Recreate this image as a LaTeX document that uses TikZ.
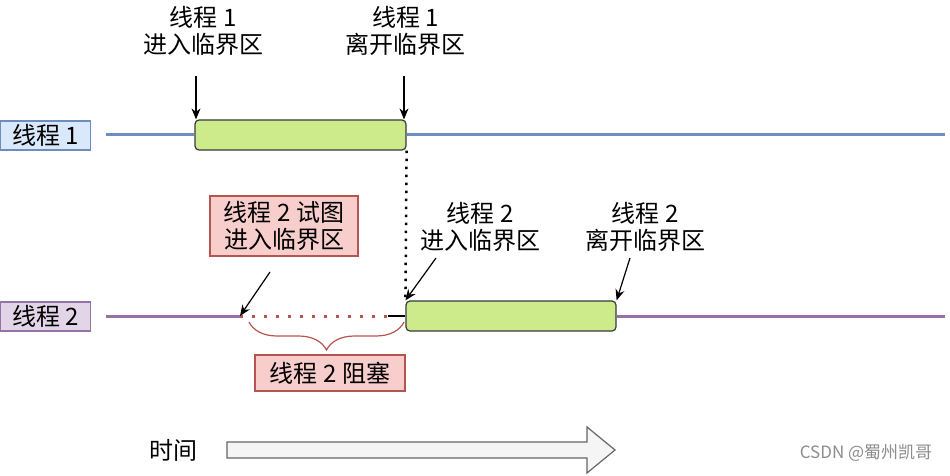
\documentclass[tikz,border=0pt]{standalone}
\usepackage{fontspec}
\setmainfont{Noto Sans CJK SC}
\usetikzlibrary{arrows.meta,decorations.pathreplacing}

\definecolor{laneblue}{HTML}{6C8EBF}
\definecolor{laneblfill}{HTML}{DAE8FC}
\definecolor{lanepurple}{HTML}{9673A6}
\definecolor{lanepufill}{HTML}{E1D5E7}
\definecolor{barfill}{HTML}{CDEB8B}
\definecolor{barline}{HTML}{36393D}
\definecolor{warnfill}{HTML}{F8CECC}
\definecolor{warnline}{HTML}{B85450}

\tikzset{
  lanebox/.style={draw, line width=1.2pt, minimum width=90pt, minimum height=29pt, inner sep=0pt},
  bar/.style={draw=barline, fill=barfill, line width=1.2pt, rounded corners=4pt, minimum height=30pt, inner sep=0pt},
  warnbox/.style={draw=warnline, fill=warnfill, line width=1.2pt, inner sep=0pt, align=center},
  note/.style={align=center, inner sep=0pt},
  pointer/.style={-{Stealth[length=11pt,width=9pt]}, line width=1.2pt},
}

\begin{document}
\begin{tikzpicture}[x=1pt,y=-1pt,font=\fontsize{24}{27}\selectfont]
  \useasboundingbox (0,0) rectangle (950,476);

  % lanes
  \node[lanebox, draw=laneblue, fill=laneblfill] (lane1) at (45.5,135.5) {线程 1};
  \node[lanebox, draw=lanepurple, fill=lanepufill] (lane2) at (45.5,316.5) {线程 2};

  \node[bar, minimum width=211pt] (bar1) at (300.5,135) {};
  \node[bar, minimum width=210pt] (bar2) at (511,316) {};

  \coordinate (l1s) at (106,135);
  \coordinate (l1e) at (945,135);
  \coordinate (l2s) at (106,316);
  \coordinate (l2e) at (945,316);
  \coordinate (wait) at (240,316);
  \coordinate (waitend) at (388,316);

  \draw[laneblue, line width=3pt] (l1s) -- (bar1.west);
  \draw[laneblue, line width=3pt] (bar1.east) -- (l1e);
  \draw[lanepurple, line width=3pt] (l2s) -- (wait);
  \draw[warnline, line width=3pt, dash pattern=on 3pt off 9pt] (wait) -- (waitend);
  \draw[line width=1.2pt] (waitend) -- (bar2.west);
  \draw[lanepurple, line width=3pt] (bar2.east) -- (l2e);

  \draw[line width=2.5pt, dash pattern=on 2.5pt off 5.5pt] (bar1.south east) -- (bar2.north west);

  % labels thread 1
  \node[note] (in1) at (203,31) {线程 1\\进入临界区};
  \node[note] (out1) at (405.5,31) {线程 1\\离开临界区};
  \coordinate (in1a) at (196,76);
  \coordinate (out1a) at (404,76);
  \draw[pointer] (in1a) -- (in1a |- bar1.north);
  \draw[pointer] (out1a) -- (out1a |- bar1.north);

  % labels thread 2
  \node[warnbox, minimum width=148pt, minimum height=60pt] (try2) at (284,226) {线程 2 试图\\进入临界区};
  \node[note] (in2) at (480,227) {线程 2\\进入临界区};
  \node[note] (out2) at (645,227) {线程 2\\离开临界区};
  \coordinate (try2a) at (270,272);
  \coordinate (in2a) at (436,258);
  \coordinate (out2a) at (630,258);
  \draw[pointer] (try2a) -- (wait);
  \draw[pointer] (in2a) -- (bar2.north west);
  \draw[pointer] (out2a) -- (bar2.north east);

  % blocked
  \coordinate (bl) at (249,322);
  \coordinate (br) at (404,322);
  \draw[warnline, line width=1.2pt, decorate, decoration={brace, mirror, amplitude=28pt, aspect=0.5}] (bl) -- (br);
  \node[warnbox, minimum width=150pt, minimum height=36pt] (block2) at (330,373) {线程 2 阻塞};

  % time
  \node[note] (time) at (173,450) {时间};
  \draw[draw=black!60, fill=black!4, line width=1.2pt]
    (227,442) -- (587,442) -- (587,427) -- (615,450) -- (587,473) -- (587,458) -- (227,458) -- cycle;

  \node[note, text=black!45, font=\fontsize{17}{19}\selectfont] (mark) at (866,453) {CSDN @蜀州凯哥};
\end{tikzpicture}
\end{document}
